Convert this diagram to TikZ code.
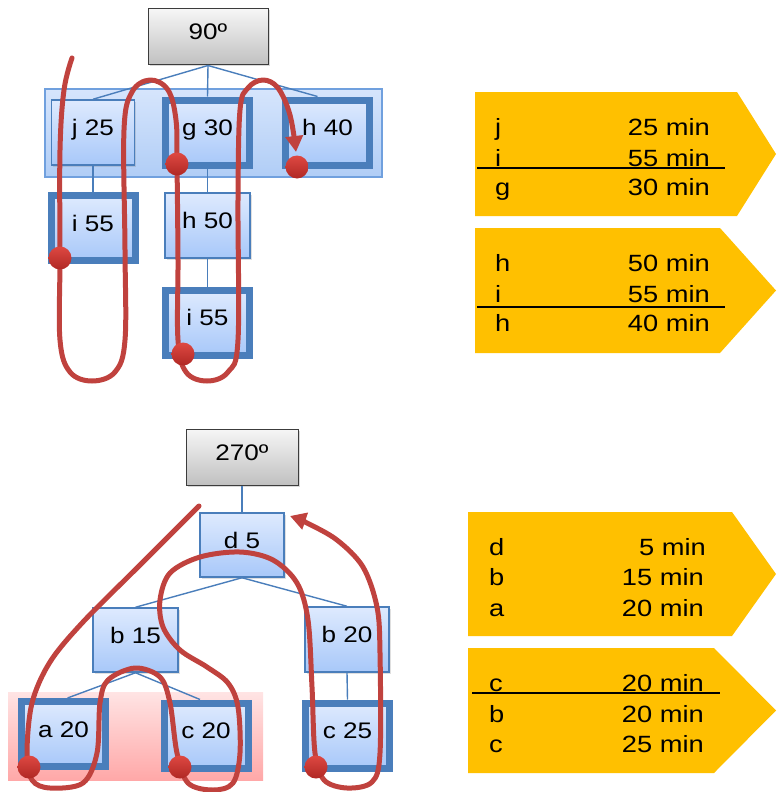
\documentclass[tikz,border=0pt]{standalone}
\usepackage{fontspec}
\setmainfont{Liberation Sans}[FakeStretch=1.16]
\usetikzlibrary{arrows.meta,shadows}
\definecolor{bord}{RGB}{74,126,187}
\definecolor{boxtop}{RGB}{222,234,254}
\definecolor{boxbot}{RGB}{168,200,249}
\definecolor{grptop}{RGB}{214,229,252}
\definecolor{grpbot}{RGB}{176,205,246}
\definecolor{grpbord}{RGB}{112,160,222}
\definecolor{greytop}{RGB}{246,246,246}
\definecolor{greybot}{RGB}{192,192,192}
\definecolor{greybord}{RGB}{60,60,60}
\definecolor{pinktop}{RGB}{255,228,228}
\definecolor{pinkbot}{RGB}{255,168,168}
\definecolor{gold}{RGB}{255,192,0}
\definecolor{loopred}{RGB}{192,66,62}
\definecolor{dottop}{RGB}{222,72,66}
\definecolor{dotbot}{RGB}{176,40,36}
\tikzset{
  raised/.style={text height=12pt, text depth=6pt},
  thinbox/.style={draw=bord, line width=1.5pt, top color=boxtop, bottom color=boxbot,
    inner sep=0pt, raised, drop shadow={shadow xshift=1.5pt, shadow yshift=-1.5pt, opacity=0.25}},
  thickbox/.style={draw=bord, line width=7pt, top color=boxtop, bottom color=boxbot,
    inner sep=0pt, minimum width=84pt, minimum height=65pt, raised,
    drop shadow={shadow xshift=1.5pt, shadow yshift=-1.5pt, opacity=0.25}},
  anglebox/.style={draw=greybord, line width=1pt, top color=greytop, bottom color=greybot,
    inner sep=0pt, minimum height=56pt, raised,
    drop shadow={shadow xshift=1.5pt, shadow yshift=-1.5pt, opacity=0.3}},
  grpbox/.style={draw=grpbord, line width=1.2pt, top color=grptop, bottom color=grpbot, inner sep=0pt},
  pinkbox/.style={top color=pinktop, bottom color=pinkbot, inner sep=0pt},
  tree/.style={draw=bord, line width=1.4pt},
  pent/.style={fill=gold},
  lbl/.style={inner sep=0pt, font=\fontsize{23.5}{27}\selectfont},
  rule/.style={draw=black, line width=1.8pt},
  loop/.style={draw=loopred, line width=5pt, line cap=round, line join=round},
  dotn/.style={circle, inner sep=0pt, minimum size=23pt, top color=dottop, bottom color=dotbot}
}
\begin{document}
\begin{tikzpicture}[x=1pt,y=-1pt, font=\fontsize{22.5}{26}\selectfont]
\useasboundingbox (0,0) rectangle (776,792);

% ---------- top tree ----------
\node[grpbox, minimum width=337pt, minimum height=88pt] (grp) at (213.5,133) {};
\node[anglebox, minimum width=120pt] (a90) at (208,37) {90º};
\node[thinbox, minimum width=83pt, minimum height=65pt] (j25) at (93,132.5) {j 25};
\node[thickbox] (g30) at (207.5,132.5) {g 30};
\node[thickbox] (h40) at (327.5,132.5) {h 40};
\node[thickbox] (i55a) at (93,228) {i 55};
\node[thinbox, minimum width=85pt, minimum height=65pt] (h50) at (207.5,225.5) {h 50};
\node[thickbox] (i55b) at (207.5,322.5) {i 55};
\draw[tree] (a90.south) -- (j25.north);
\draw[tree] (a90.south) -- (g30.north);
\draw[tree] (a90.south) -- ([xshift=-10pt]h40.north);
\draw[tree] (j25.south) -- (i55a.north);
\draw[tree] (g30.south) -- (h50.north);
\draw[tree] (h50.south) -- (i55b.north);

% ---------- bottom tree ----------
\node[pinkbox, minimum width=255pt, minimum height=88pt] (pink) at (135.5,736) {};
\node[anglebox, minimum width=112pt] (a270) at (242,457) {270º};
\node[thinbox, minimum width=84pt, minimum height=64pt] (d5) at (242,545) {d 5};
\node[thinbox, minimum width=85pt, minimum height=64pt] (b15) at (135.5,640) {b 15};
\node[thinbox, minimum width=84pt, minimum height=65pt] (b20) at (347,639.5) {b 20};
\node[thickbox] (a20) at (63.5,734) {a 20};
\node[thickbox] (c20) at (206,735.5) {c 20};
\node[thickbox] (c25) at (347.5,735.5) {c 25};
\draw[tree] (a270.south) -- (d5.north);
\draw[tree] (d5.south) -- (b15.north);
\draw[tree] (d5.south) -- (b20.north);
\draw[tree] (b15.south) -- ([xshift=4pt]a20.north);
\draw[tree] (b15.south) -- ([xshift=-6pt]c20.north);
\draw[tree] (b20.south) -- (c25.north);

% ---------- red loops ----------
\draw[loop, -{Triangle[length=16pt,width=17pt]}] plot[smooth, tension=0.6] coordinates {
 (72,58) (64,90) (60,150) (60,258) (60,340) (70,372) (92,381) (115,372) (125,340)
 (125,250) (124,130) (132,92) (150,80) (168,90) (176,120) (177,164) (178,260) (178,340)
 (186,372) (207,381) (228,372) (238,340) (238,200) (240,110) (248,88) (263,80) (278,88)
 (290,115) (296,152)};
\node[dotn] (p1) at (60,258) {};
\node[dotn] (p2) at (177,164) {};
\node[dotn] (p3) at (183,354) {};
\node[dotn] (p4) at (297,167) {};

\draw[loop, -{Triangle[length=16pt,width=17pt]}] plot[smooth, tension=0.55] coordinates {
 (199,506) (140,565) (83,622) (50,662) (32,703) (27,753) (32,780) (50,788) (83,783)
 (97,753) (100,703) (108,680) (135,668) (160,677) (170,703) (177,753) (188,783) (213,790)
 (233,783) (240,753) (238,707) (228,683) (207,667) (180,650) (163,627) (160,600) (170,573)
 (200,557) (240,552) (273,560) (297,583) (308,620) (312,687) (315,753) (324,780) (347,788)
 (372,782) (380,753) (380,653) (377,607) (363,567) (337,540) (307,523) (290,516)};
\node[dotn] (p5) at (29,767) {};
\node[dotn] (p6) at (180,767) {};
\node[dotn] (p7) at (316,767) {};

% ---------- pentagons ----------
\fill[pent] (475,92) -- (737,92) -- (776,154) -- (737,216) -- (475,216) -- cycle;
\fill[pent] (475,228) -- (720,228) -- (776,290.5) -- (720,353) -- (475,353) -- cycle;
\fill[pent] (468,512) -- (732,512) -- (776,574) -- (732,636) -- (468,636) -- cycle;
\fill[pent] (468,648) -- (714,648) -- (776,710.5) -- (714,773) -- (468,773) -- cycle;

\node[lbl, anchor=base west] (l1) at (495,135) {j};
\node[lbl, anchor=base east] (r1) at (710,135) {25 min};
\node[lbl, anchor=base west] (l2) at (495,166) {i};
\node[lbl, anchor=base east] (r2) at (710,166) {55 min};
\node[lbl, anchor=base west] (l3) at (495,195) {g};
\node[lbl, anchor=base east] (r3) at (710,195) {30 min};
\coordinate (u1a) at (477,168); \coordinate (u1b) at (725,168);
\draw[rule] (u1a) -- (u1b);

\node[lbl, anchor=base west] (l4) at (495,271) {h};
\node[lbl, anchor=base east] (r4) at (710,271) {50 min};
\node[lbl, anchor=base west] (l5) at (495,302) {i};
\node[lbl, anchor=base east] (r5) at (710,302) {55 min};
\node[lbl, anchor=base west] (l6) at (495,331) {h};
\node[lbl, anchor=base east] (r6) at (710,331) {40 min};
\coordinate (u2a) at (477,307); \coordinate (u2b) at (725,307);
\draw[rule] (u2a) -- (u2b);

\node[lbl, anchor=base west] (l7) at (489,555) {d};
\node[lbl, anchor=base east] (r7) at (706,555) {5 min};
\node[lbl, anchor=base west] (l8) at (489,585) {b};
\node[lbl, anchor=base east] (r8) at (704,585) {15 min};
\node[lbl, anchor=base west] (l9) at (489,616) {a};
\node[lbl, anchor=base east] (r9) at (704,616) {20 min};

\node[lbl, anchor=base west] (l10) at (489,691) {c};
\node[lbl, anchor=base east] (r10) at (704,691) {20 min};
\node[lbl, anchor=base west] (l11) at (489,722) {b};
\node[lbl, anchor=base east] (r11) at (704,722) {20 min};
\node[lbl, anchor=base west] (l12) at (489,752) {c};
\node[lbl, anchor=base east] (r12) at (704,752) {25 min};
\coordinate (u3a) at (472,693); \coordinate (u3b) at (720,693);
\draw[rule] (u3a) -- (u3b);
\end{tikzpicture}
\end{document}
